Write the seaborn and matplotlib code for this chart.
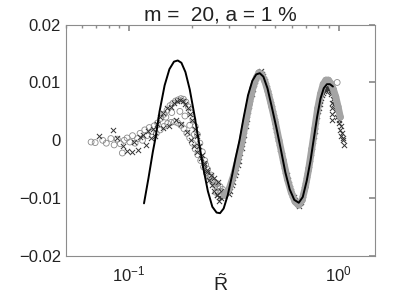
import numpy as np
import pandas as pd
import matplotlib
matplotlib.use("Agg")
import matplotlib.pyplot as plt
import seaborn as sns
from matplotlib.ticker import FixedLocator, LogLocator, NullFormatter

# model curve (solid black line)
curve_x = [0.118, 0.124, 0.130, 0.134, 0.140, 0.148, 0.156, 0.164, 0.171, 0.178,
           0.186, 0.195, 0.205, 0.215, 0.226, 0.238, 0.250, 0.262, 0.272, 0.283,
           0.296, 0.310, 0.323, 0.337, 0.352, 0.370, 0.388, 0.405, 0.421, 0.438,
           0.458, 0.480, 0.505, 0.530, 0.557, 0.585, 0.615, 0.646, 0.675, 0.705,
           0.735, 0.760, 0.790, 0.820, 0.850, 0.880, 0.910, 0.940]
curve_y = [-0.0109, -0.0065, -0.0020, 0.0005, 0.0050, 0.0095, 0.0123, 0.0136, 0.0138, 0.0134,
           0.0118, 0.0088, 0.0045, 0.0000, -0.0047, -0.0088, -0.0115, -0.0125, -0.0126, -0.0118,
           -0.0095, -0.0062, -0.0030, 0.0000, 0.0038, 0.0078, 0.0103, 0.0114, 0.0116, 0.0110,
           0.0090, 0.0058, 0.0022, -0.0015, -0.0055, -0.0085, -0.0103, -0.0108, -0.0098, -0.0070,
           -0.0035, 0.0000, 0.0040, 0.0072, 0.0090, 0.0097, 0.0097, 0.0093]

# dense grey band of circles, large R
band_x = [0.285, 0.300, 0.315, 0.330, 0.345, 0.360, 0.375, 0.390, 0.405, 0.418,
          0.430, 0.445, 0.460, 0.480, 0.500, 0.520, 0.545, 0.570, 0.595, 0.620,
          0.645, 0.670, 0.695, 0.720, 0.745, 0.770, 0.795, 0.820, 0.845, 0.870,
          0.895, 0.920, 0.945, 0.970, 0.995, 1.020]
band_y = [-0.0095, -0.0085, -0.0062, -0.0035, -0.0005, 0.0030, 0.0062, 0.0090, 0.0108, 0.0117,
          0.0114, 0.0102, 0.0085, 0.0058, 0.0030, 0.0000, -0.0035, -0.0067, -0.0090, -0.0106,
          -0.0112, -0.0104, -0.0080, -0.0050, -0.0015, 0.0020, 0.0055, 0.0080, 0.0097, 0.0104,
          0.0104, 0.0098, 0.0088, 0.0075, 0.0058, 0.0040]

# open circles, small R
circ_x = [0.066, 0.069, 0.075, 0.078, 0.082, 0.085, 0.088, 0.091, 0.093, 0.095,
          0.098, 0.101, 0.104, 0.107, 0.110, 0.113, 0.116, 0.119, 0.122, 0.125,
          0.128, 0.132, 0.137, 0.142, 0.147, 0.152, 0.157, 0.162, 0.167, 0.172,
          0.177, 0.182, 0.187, 0.192, 0.197, 0.202, 0.207, 0.212, 0.218, 0.224,
          0.230, 0.237, 0.244, 0.251, 0.258, 0.265, 0.272, 0.135, 0.141, 0.147,
          0.153, 0.159, 0.165, 0.171, 0.177, 0.183, 0.189, 0.195, 0.201, 0.207,
          0.213, 0.220, 0.227, 0.234, 0.241, 0.248, 0.256, 0.264, 0.272, 0.280,
          0.985, 0.150, 0.160, 0.175, 0.185, 0.195, 0.205, 0.232, 0.246, 0.260]
circ_y = [-0.0003, -0.0004, 0.0000, -0.0005, 0.0003, -0.0008, 0.0002, -0.0006, -0.0022, 0.0000,
          0.0004, -0.0003, 0.0008, -0.0005, 0.0003, 0.0012, 0.0000, 0.0018, 0.0008, 0.0022,
          0.0015, 0.0025, 0.0030, 0.0038, 0.0045, 0.0052, 0.0060, 0.0064, 0.0068, 0.0070,
          0.0072, 0.0071, 0.0066, 0.0058, 0.0048, 0.0036, 0.0024, 0.0010, -0.0005, -0.0020,
          -0.0035, -0.0050, -0.0063, -0.0072, -0.0078, -0.0082, -0.0088, 0.0012, 0.0018, 0.0024,
          0.0029, 0.0031, 0.0032, 0.0030, 0.0026, 0.0020, 0.0012, 0.0004, -0.0005, -0.0015,
          -0.0025, -0.0035, -0.0046, -0.0056, -0.0064, -0.0068, -0.0072, -0.0075, -0.0080, -0.0085,
          0.0100, 0.0040, 0.0048, 0.0050, 0.0042, 0.0026, 0.0010, -0.0042, -0.0060, -0.0090]

# crosses
cross_x = [0.072, 0.084, 0.088, 0.094, 0.098, 0.103, 0.106, 0.110, 0.113, 0.117,
           0.120, 0.123, 0.127, 0.130, 0.133, 0.136, 0.140, 0.146, 0.152, 0.158,
           0.164, 0.170, 0.176, 0.181, 0.186, 0.191, 0.196, 0.201, 0.206, 0.211,
           0.217, 0.223, 0.229, 0.235, 0.241, 0.248, 0.255, 0.262, 0.269, 0.276,
           0.283, 0.290, 0.145, 0.155, 0.168, 0.178, 0.190, 0.198, 0.205, 0.212,
           0.220, 0.228, 0.236, 0.245, 0.255, 0.265, 0.270, 0.275, 0.262,
           0.300, 0.310, 0.320, 0.330, 0.340, 0.350, 0.360, 0.370, 0.380, 0.390,
           0.400, 0.410, 0.420, 0.430, 0.440, 0.450, 0.460, 0.470, 0.480, 0.490,
           0.500, 0.510, 0.520, 0.535, 0.550, 0.565, 0.580, 0.595, 0.610, 0.625,
           0.640, 0.655, 0.670, 0.685, 0.700, 0.715, 0.730, 0.745, 0.760, 0.775,
           0.790, 0.805, 0.820, 0.835, 0.850, 0.865, 0.880, 0.895, 0.910, 0.925,
           0.940, 0.955, 0.970, 0.985, 1.000, 1.015, 1.030, 1.045, 1.060,
           0.930, 0.930, 0.932, 0.928,
           0.305, 0.315, 0.325, 0.335, 0.345, 0.355, 0.365, 0.375, 0.385, 0.395,
           0.405, 0.415, 0.425, 0.435, 0.445, 0.455, 0.465, 0.475, 0.485, 0.495,
           0.505, 0.515, 0.528, 0.542, 0.557, 0.572, 0.588, 0.603, 0.618, 0.633,
           0.648, 0.663, 0.678, 0.693, 0.708, 0.723, 0.738, 0.753, 0.768, 0.783,
           0.798, 0.813, 0.828, 0.843, 0.858, 0.873, 0.888, 0.903, 0.918, 0.948,
           0.963, 0.978, 0.993, 1.008, 1.023, 1.038, 1.052]
cross_y = [0.0007, 0.0018, 0.0004, -0.0010, -0.0018, -0.0020, -0.0003, -0.0017, 0.0005, 0.0010,
           -0.0008, 0.0016, 0.0004, 0.0020, 0.0008, 0.0028, 0.0040, 0.0048, 0.0056, 0.0058,
           0.0065, 0.0068, 0.0070, 0.0068, 0.0062, 0.0055, 0.0045, 0.0035, 0.0020, 0.0008,
           -0.0010, -0.0025, -0.0040, -0.0055, -0.0068, -0.0078, -0.0088, -0.0095, -0.0098, -0.0100,
           -0.0096, -0.0090, 0.0022, 0.0025, 0.0035, 0.0028, 0.0015, 0.0000, -0.0010, -0.0020,
           -0.0030, -0.0042, -0.0052, -0.0060, -0.0066, -0.0072, -0.0105, -0.0088, -0.0095,
           -0.0092, -0.0078, -0.0060, -0.0042, -0.0022, 0.0000, 0.0025, 0.0050, 0.0072, 0.0088,
           0.0102, 0.0112, 0.0118, 0.0115, 0.0106, 0.0095, 0.0082, 0.0068, 0.0055, 0.0040,
           0.0025, 0.0010, -0.0005, -0.0025, -0.0045, -0.0060, -0.0075, -0.0088, -0.0098, -0.0106,
           -0.0110, -0.0108, -0.0100, -0.0085, -0.0068, -0.0050, -0.0032, -0.0012, 0.0008, 0.0025,
           0.0042, 0.0056, 0.0068, 0.0078, 0.0085, 0.0088, 0.0090, 0.0088, 0.0085, 0.0080,
           0.0072, 0.0063, 0.0052, 0.0040, 0.0030, 0.0018, 0.0008, 0.0000, -0.0008,
           0.0055, 0.0045, 0.0035, 0.0065,
           -0.0088, -0.0072, -0.0054, -0.0035, -0.0014, 0.0010, 0.0036, 0.0060, 0.0080, 0.0097,
           0.0108, 0.0116, 0.0120, 0.0112, 0.0102, 0.0090, 0.0076, 0.0062, 0.0048, 0.0033,
           0.0018, 0.0002, -0.0015, -0.0035, -0.0053, -0.0068, -0.0082, -0.0094, -0.0103, -0.0109,
           -0.0114, -0.0106, -0.0094, -0.0078, -0.0060, -0.0042, -0.0022, -0.0002, 0.0016, 0.0034,
           0.0050, 0.0062, 0.0073, 0.0082, 0.0087, 0.0090, 0.0092, 0.0089, 0.0084, 0.0077,
           0.0068, 0.0057, 0.0046, 0.0035, 0.0024, 0.0013, 0.0004]

title = "m =  20, a = 1 %"
yticks = [-0.02, -0.01, 0, 0.01, 0.02]
ytick_labels = ["\u22120.02", "\u22120.01", "0", "0.01", "0.02"]

sns.set_theme(style="white")
plt.rcParams["font.family"] = ["Liberation Sans", "DejaVu Sans"]
plt.rcParams["mathtext.fontset"] = "custom"
plt.rcParams["mathtext.rm"] = "Liberation Sans"

fig = plt.figure(figsize=(3.99, 3.04), dpi=100)
ax = fig.add_axes([0.165, 0.158, 0.776, 0.761])

sns.lineplot(x=band_x, y=band_y, ax=ax, color="#a4a4a4", linewidth=5,
             estimator=None, sort=False, solid_capstyle="round")
sns.lineplot(x=curve_x, y=curve_y, ax=ax, color="black", linewidth=1.4,
             estimator=None, sort=False)
sns.scatterplot(x=circ_x, y=circ_y, ax=ax, marker="o", s=18,
                facecolor="none", edgecolor="#8a8a8a", linewidth=0.6)
sns.scatterplot(x=band_x, y=band_y, ax=ax, marker="o", s=18,
                facecolor="none", edgecolor="#8a8a8a", linewidth=0.6)
sns.scatterplot(x=cross_x, y=cross_y, ax=ax, marker="x", s=14,
                color="#333333", linewidth=0.7)

ax.set_xscale("log")
ax.set_xlim(0.05, 1.5)
ax.set_ylim(-0.02, 0.02)
ax.set_yticks(yticks)
ax.set_yticklabels(ytick_labels)
ax.xaxis.set_major_locator(FixedLocator([0.1, 1.0]))
ax.xaxis.set_minor_locator(LogLocator(base=10, subs=np.arange(2, 10)))
ax.xaxis.set_minor_formatter(NullFormatter())

for sp in ax.spines.values():
    sp.set_color("#8c8c8c")
    sp.set_linewidth(0.8)
ax.tick_params(which="both", direction="in", top=True, right=True,
               color="#8c8c8c", labelsize=12, labelcolor="#222222")
ax.tick_params(which="major", length=4)
ax.tick_params(which="minor", length=2)
ax.tick_params(axis="x", pad=6)

ax.set_xlabel(r"$\tilde{\mathrm{R}}$", fontsize=14, color="#222222")
ax.xaxis.set_label_coords(0.5, -0.075)
ax.set_ylabel("")
ax.set_title(title, fontsize=15, color="#222222", pad=3)

fig.savefig("out.png", dpi=100)
